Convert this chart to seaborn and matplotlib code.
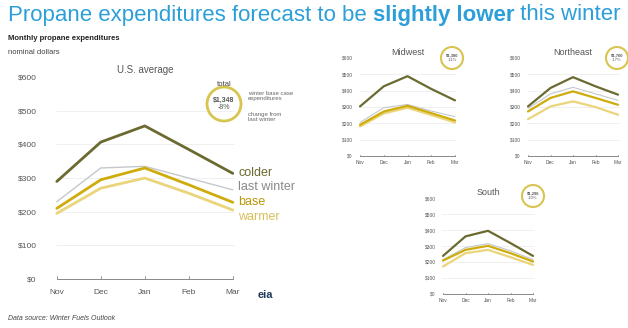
import numpy as np
import pandas as pd
import matplotlib
matplotlib.use("Agg")
import matplotlib.pyplot as plt
import seaborn as sns
from matplotlib.patches import Circle

sns.set_theme(style="white")
plt.rcParams['font.family'] = ['Liberation Sans', 'DejaVu Sans']

months = ["Nov", "Dec", "Jan", "Feb", "Mar"]
scenarios = ["colder", "last winter", "base", "warmer"]

us_colder = [290, 407, 455, 385, 314]
us_last = [230, 330, 335, 300, 265]
us_base = [210, 295, 330, 280, 228]
us_warmer = [195, 270, 300, 255, 205]

mw_colder = [303, 426, 488, 410, 340]
mw_last = [205, 295, 315, 275, 240]
mw_base = [190, 272, 307, 262, 217]
mw_warmer = [180, 260, 295, 250, 205]

ne_colder = [303, 416, 482, 426, 375]
ne_last = [290, 380, 420, 380, 340]
ne_base = [272, 355, 395, 355, 313]
ne_warmer = [225, 303, 334, 299, 252]

so_colder = [238, 360, 395, 318, 238]
so_last = [215, 290, 315, 270, 215]
so_base = [209, 276, 301, 255, 203]
so_warmer = [172, 255, 276, 230, 182]

yticks = [0, 100, 200, 300, 400, 500, 600]
ytick_labels = ["$0", "$100", "$200", "$300", "$400", "$500", "$600"]

circle_totals = {"US": ("$1,348", "-8%"), "Midwest": ("$1,380", "-11%"),
                 "Northeast": ("$1,760", "-17%"), "South": ("$1,296", "-10%")}

colors = {"colder": "#6b6a30", "last winter": "#c4c8cc",
          "base": "#cfac0c", "warmer": "#ead57a"}
widths = {"colder": 2.0, "last winter": 1.0, "base": 2.0, "warmer": 2.0}


def make_df(c, l, b, w):
    rows = []
    for name, vals in zip(scenarios, [c, l, b, w]):
        for i, v in enumerate(vals):
            rows.append({"month": i, "scenario": name, "value": v})
    return pd.DataFrame(rows)


W, H = 628, 328
fig = plt.figure(figsize=(W / 100, H / 100), dpi=100)
fig.patch.set_facecolor("white")


def ax_px(left, bottom, width, height):
    return fig.add_axes([left / W, (H - bottom) / H, width / W, height / H])


def draw_panel(ax, df, tick_fs, lw_scale=1.0):
    for name in ["last winter", "warmer", "base", "colder"]:
        sub = df[df.scenario == name]
        sns.lineplot(data=sub, x="month", y="value", ax=ax, color=colors[name],
                     lw=widths[name] * lw_scale, legend=False, zorder=3)
    ax.set_xlim(-0.2, 4.2)
    ax.set_ylim(-10, 620)
    ax.set_yticks(yticks)
    ax.set_yticklabels(ytick_labels, fontsize=tick_fs, color="#555555")
    ax.set_xticks(range(5))
    ax.set_xticklabels(months, fontsize=tick_fs, color="#555555")
    for y in yticks[1:-1]:
        ax.axhline(y, xmin=0.04, xmax=0.96, color="#eeeeee", lw=0.6, zorder=1)
    ax.plot([0, 4], [0, 0], color="#888888", lw=0.7, zorder=2)
    for i in range(5):
        ax.plot([i, i], [0, 8], color="#888888", lw=0.6, zorder=2)
    ax.set_xlabel("")
    ax.set_ylabel("")
    for s in ax.spines.values():
        s.set_visible(False)
    ax.tick_params(length=0, pad=2)
    ax.patch.set_alpha(0)


# Main US panel
ax = ax_px(48, 282.4, 193.6, 212)
draw_panel(ax, make_df(us_colder, us_last, us_base, us_warmer), 6.0)
ax.text(2, 622, "U.S. average", fontsize=7, color="#555555", ha="center", va="center")
ax.tick_params(axis="x", pad=5)
ax.tick_params(axis="y", pad=8)

# Line labels
lab_y = {"colder": 173, "last winter": 187, "base": 202, "warmer": 217}
lab_c = {"colder": "#6b6a30", "last winter": "#888888", "base": "#b8960a", "warmer": "#d8bf5a"}
for name in scenarios:
    fig.text(238 / W, (H - lab_y[name]) / H, name, fontsize=9, color=lab_c[name],
             va="center", ha="left")


def circ(cx, cy, r, lines, fs, lw=1.5):
    fig.patches.append(Circle((cx, H - cy), r, transform=None, fill=False,
                              ec="#d8c450", lw=lw))
    fig.text(cx / W, (H - cy + fs * 0.7) / H, lines[0], fontsize=fs, ha="center", va="center",
             color="#555555", fontweight="bold")
    fig.text(cx / W, (H - cy - fs * 0.7) / H, lines[1], fontsize=fs, ha="center", va="center",
             color="#555555")


circ(224, 104, 17, circle_totals["US"], 5, 2.0)
fig.text(224 / W, (H - 84) / H, "total", fontsize=5.5, ha="center", va="center", color="#444444")
fig.text(248 / W, (H - 96) / H, "winter base case\nexpenditures", fontsize=4.3,
         ha="left", va="center", color="#666666", linespacing=1.0)
fig.text(248 / W, (H - 117) / H, "change from\nlast winter", fontsize=4.3,
         ha="left", va="center", color="#666666", linespacing=1.0)

# Small panels
ax_mw = ax_px(355.25, 157.6, 104.5, 103)
draw_panel(ax_mw, make_df(mw_colder, mw_last, mw_base, mw_warmer), 3.5, 0.8)
ax_mw.set_title("Midwest", fontsize=6.5, color="#555555", pad=0)
circ(452, 58, 11, circle_totals["Midwest"], 3)

ax_ne = ax_px(523.5, 157.6, 99, 103)
draw_panel(ax_ne, make_df(ne_colder, ne_last, ne_base, ne_warmer), 3.5, 0.8)
ax_ne.set_title("Northeast", fontsize=6.5, color="#555555", pad=0)
circ(617, 58, 11, circle_totals["Northeast"], 3)

ax_so = ax_px(438.5, 295.6, 99, 100.8)
draw_panel(ax_so, make_df(so_colder, so_last, so_base, so_warmer), 3.5, 0.8)
ax_so.set_title("South", fontsize=6.5, color="#555555", pad=0)
circ(533, 196, 11, circle_totals["South"], 3)

# Titles
fig.canvas.draw()
rend = fig.canvas.get_renderer()
x = 8
ty = (H - 15) / H
for txt, bold in [("Propane expenditures forecast to be ", False),
                  ("slightly lower", True), (" this winter", False)]:
    t = fig.text(x / W, ty, txt, fontsize=16, color="#2c9fd8",
                 fontweight="bold" if bold else "normal", va="center", ha="left")
    bb = t.get_window_extent(renderer=rend)
    x += bb.width

fig.text(8 / W, (H - 38) / H, "Monthly propane expenditures", fontsize=5.5,
         fontweight="bold", color="#222222", va="center")
fig.text(8 / W, (H - 53) / H, "nominal dollars", fontsize=5.5, color="#444444", va="center")
fig.text(8 / W, (H - 318) / H, "Data source: Winter Fuels Outlook", fontsize=5,
         style="italic", color="#444444", va="center")
fig.text(258 / W, (H - 295) / H, "eia", fontsize=8, fontweight="bold",
         color="#1f3b5a", va="center")

fig.savefig("out.png", dpi=100, facecolor="white")
